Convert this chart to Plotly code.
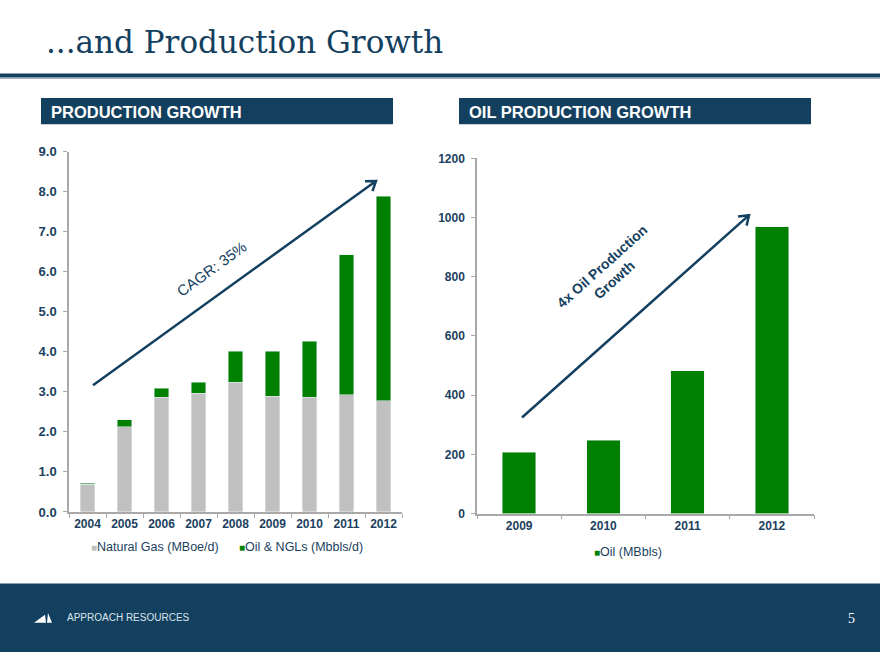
import math
import plotly.graph_objects as go

# ---------------- data ----------------
years_left = ["2004", "2005", "2006", "2007", "2008", "2009", "2010", "2011", "2012"]
natural_gas = [0.69, 2.13, 2.87, 2.96, 3.24, 2.89, 2.87, 2.93, 2.78]
oil_ngls = [0.03, 0.17, 0.22, 0.28, 0.77, 1.13, 1.40, 3.50, 5.10]
left_yticks = [0, 1, 2, 3, 4, 5, 6, 7, 8, 9]

years_right = ["2009", "2010", "2011", "2012"]
oil_mbbls = [207, 247, 483, 969]
right_yticks = [0, 200, 400, 600, 800, 1000, 1200]

name_gas = "Natural Gas (MBoe/d)"
name_oil = "Oil & NGLs (Mbbls/d)"
name_oil2 = "Oil (MBbls)"

NAVY = "#14405f"
TXT = "#1b3f60"
GRAY = "#c0c0c0"
GREEN = "#008000"
AXIS = "#a9a9a9"
W, H = 880, 660


def px(x):
    return x / W


def py(y):
    return 1 - y / H


fig = go.Figure()
fig.add_trace(go.Bar(x=years_left, y=natural_gas, name=name_gas, marker_color=GRAY,
                     xaxis="x", yaxis="y", showlegend=False))
fig.add_trace(go.Bar(x=years_left, y=oil_ngls, name=name_oil, marker_color=GREEN,
                     xaxis="x", yaxis="y", showlegend=False))
fig.add_trace(go.Bar(x=years_right, y=oil_mbbls, name=name_oil2, marker_color=GREEN,
                     xaxis="x2", yaxis="y2", showlegend=False))

tickfont = dict(family="Liberation Sans, Arial", size=12, color=TXT, weight="bold")
common_x = dict(type="category", showline=True, linecolor=AXIS, linewidth=1.5,
                ticks="outside", tickson="boundaries", ticklen=4, tickcolor=AXIS,
                tickfont=tickfont, showgrid=False, zeroline=False, fixedrange=True)
common_y = dict(showline=True, linecolor=AXIS, linewidth=1.5, ticks="outside",
                ticklen=4, tickcolor=AXIS, showgrid=False,
                zeroline=False, ticklabelstandoff=4)

fig.update_layout(
    width=W, height=H, margin=dict(l=0, r=0, t=0, b=0),
    paper_bgcolor="white", plot_bgcolor="white",
    barmode="stack", bargap=0.6, showlegend=False,
    xaxis=dict(common_x, domain=[px(69), px(402)], range=[-0.5, 8.5], anchor="y"),
    yaxis=dict(common_y, domain=[py(516.7), py(148)], range=[0, 9],
               tickfont=dict(tickfont, size=13),
               tickvals=left_yticks, ticktext=[f"{v:.1f}" for v in left_yticks], anchor="x"),
    xaxis2=dict(common_x, domain=[px(477), px(814)], range=[-0.5, 3.5], anchor="y2"),
    yaxis2=dict(common_y, domain=[py(518.3), py(155)], range=[0, 1200],
                tickfont=tickfont,
                tickvals=right_yticks, ticktext=[str(v) for v in right_yticks], anchor="x2"),
)

shapes = []
# separator line
shapes.append(dict(type="line", xref="paper", yref="paper", x0=0, x1=1, y0=py(70), y1=py(70),
                   line=dict(color=NAVY, width=4)))
shapes.append(dict(type="line", xref="paper", yref="paper", x0=0, x1=1, y0=py(73), y1=py(73),
                   line=dict(color="#8ea3b5", width=1)))
# header boxes
for x0, x1 in [(41, 393), (459, 811)]:
    shapes.append(dict(type="rect", xref="paper", yref="paper", x0=px(x0), x1=px(x1),
                       y0=py(120), y1=py(93), fillcolor=NAVY, line=dict(width=0), layer="below"))
# footer band
shapes.append(dict(type="rect", xref="paper", yref="paper", x0=0, x1=1, y0=0, y1=py(590),
                   fillcolor=NAVY, line=dict(width=0), layer="below"))
# footer logo
logo = f"M{px(34)},{py(630)} L{px(45)},{py(622)} L{px(46)},{py(630)} Z " \
       f"M{px(47)},{py(630)} L{px(48)},{py(620)} L{px(52)},{py(630)} Z"
shapes.append(dict(type="path", xref="paper", yref="paper", path=logo,
                   fillcolor="white", line=dict(width=0)))


def arrow(x0, y0, x1, y1, head=11, ang=35):
    dx, dy = x1 - x0, y1 - y0
    L = math.hypot(dx, dy)
    ux, uy = dx / L, dy / L
    pts = []
    for s in (1, -1):
        a = math.radians(ang) * s
        bx = -(ux * math.cos(a) - uy * math.sin(a))
        by = -(ux * math.sin(a) + uy * math.cos(a))
        pts.append((x1 + head * bx, y1 + head * by))
    path = (f"M{px(x0)},{py(y0)} L{px(x1)},{py(y1)} "
            f"M{px(pts[0][0])},{py(pts[0][1])} L{px(x1)},{py(y1)} L{px(pts[1][0])},{py(pts[1][1])}")
    return dict(type="path", xref="paper", yref="paper", path=path,
                line=dict(color=NAVY, width=2.5))


shapes.append(arrow(93, 387, 376, 178))
shapes.append(arrow(522, 420, 749, 213))
fig.update_layout(shapes=shapes)

ann = []
ann.append(dict(text="...and Production Growth", x=px(44), y=py(36), xref="paper", yref="paper",
                xanchor="left", yanchor="middle", showarrow=False,
                font=dict(family="DejaVu Serif", size=31, color=NAVY)))
ann.append(dict(text="PRODUCTION GROWTH", x=px(49), y=py(107), xref="paper", yref="paper",
                xanchor="left", yanchor="middle", showarrow=False,
                font=dict(family="Liberation Sans, Arial", size=16.5, color="white", weight="bold")))
ann.append(dict(text="OIL PRODUCTION GROWTH", x=px(467), y=py(107), xref="paper", yref="paper",
                xanchor="left", yanchor="middle", showarrow=False,
                font=dict(family="Liberation Sans, Arial", size=16.5, color="white", weight="bold")))
ann.append(dict(text="CAGR: 35%", x=px(212), y=py(268), xref="paper", yref="paper",
                xanchor="center", yanchor="middle",
                textangle=-36, showarrow=False,
                font=dict(family="Liberation Sans, Arial", size=15, color=NAVY)))
ann.append(dict(text="4x Oil Production<br>Growth", x=px(608), y=py(272), xref="paper", yref="paper",
                xanchor="center", yanchor="middle",
                textangle=-42, showarrow=False,
                font=dict(family="Liberation Sans, Arial", size=14, color=NAVY, weight="bold")))

legfont = dict(family="Liberation Sans, Arial", size=12.5, color=TXT)


def leg(xs, ys, color, name):
    return dict(text=f"<span style='color:{color};font-size:10px'>■</span>{name}",
                x=px(xs), y=py(ys), xref="paper", yref="paper", xanchor="left",
                yanchor="middle", showarrow=False, font=legfont)


ann.append(leg(89, 553, GRAY, name_gas))
ann.append(leg(237, 553, GREEN, name_oil))
ann.append(leg(592, 558, GREEN, name_oil2))

ann.append(dict(text="APPROACH RESOURCES", x=px(65), y=py(625), xref="paper", yref="paper",
                xanchor="left", yanchor="middle", showarrow=False,
                font=dict(family="Liberation Sans, Arial", size=10, color="#dbe4ec")))
ann.append(dict(text="5", x=px(851), y=py(626), xref="paper", yref="paper",
                xanchor="center", yanchor="middle", showarrow=False,
                font=dict(family="Liberation Serif", size=14, color="white")))
fig.update_layout(annotations=ann)

post = ("document.body.style.margin='0';"
        "document.documentElement.style.overflow='hidden';"
        "document.body.style.overflow='hidden';"
        "var d=document.getElementById('{plot_id}');"
        "d.style.position='fixed';d.style.top='0px';d.style.left='0px';")
fig.write_html("out.html", config={"displayModeBar": False}, post_script=post)
